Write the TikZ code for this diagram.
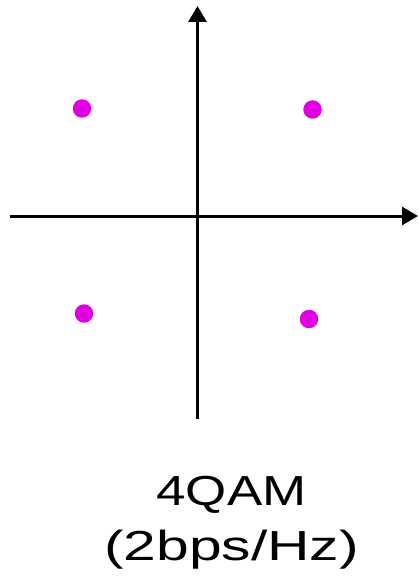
\documentclass[tikz,border=0pt]{standalone}
\usepackage{fontspec}
\setmainfont{Liberation Sans}
\usetikzlibrary{arrows.meta}
\definecolor{dotc}{RGB}{225,0,225}
\tikzset{
  axis/.style={line width=3pt, -{Triangle[length=16pt,width=18pt]}},
  pt/.style={circle, inner sep=0pt, minimum size=18.5pt, draw=none, fill=dotc},
  lbl/.style={inner sep=0pt, anchor=base, font=\fontsize{42}{50}\selectfont}
}
\begin{document}
\begin{tikzpicture}[x=1pt,y=-1pt]
\useasboundingbox (0,0) rectangle (418,577);
\coordinate (xs) at (10,216);
\coordinate (xe) at (418,216);
\coordinate (ys) at (197.5,419);
\coordinate (ye) at (197.5,6);
\draw[axis] (xs) -- (xe);
\draw[axis] (ys) -- (ye);
\node[pt] (p1) at (82,108.5) {};
\node[pt] (p2) at (312.5,109.5) {};
\node[pt] (p3) at (84,313.5) {};
\node[pt] (p4) at (309,319) {};
\node[lbl, xscale=1.26] (t1) at (231.5,505) {4QAM};
\node[lbl, xscale=1.4] (t2) at (231.5,560) {(2bps/Hz)};
\end{tikzpicture}
\end{document}
